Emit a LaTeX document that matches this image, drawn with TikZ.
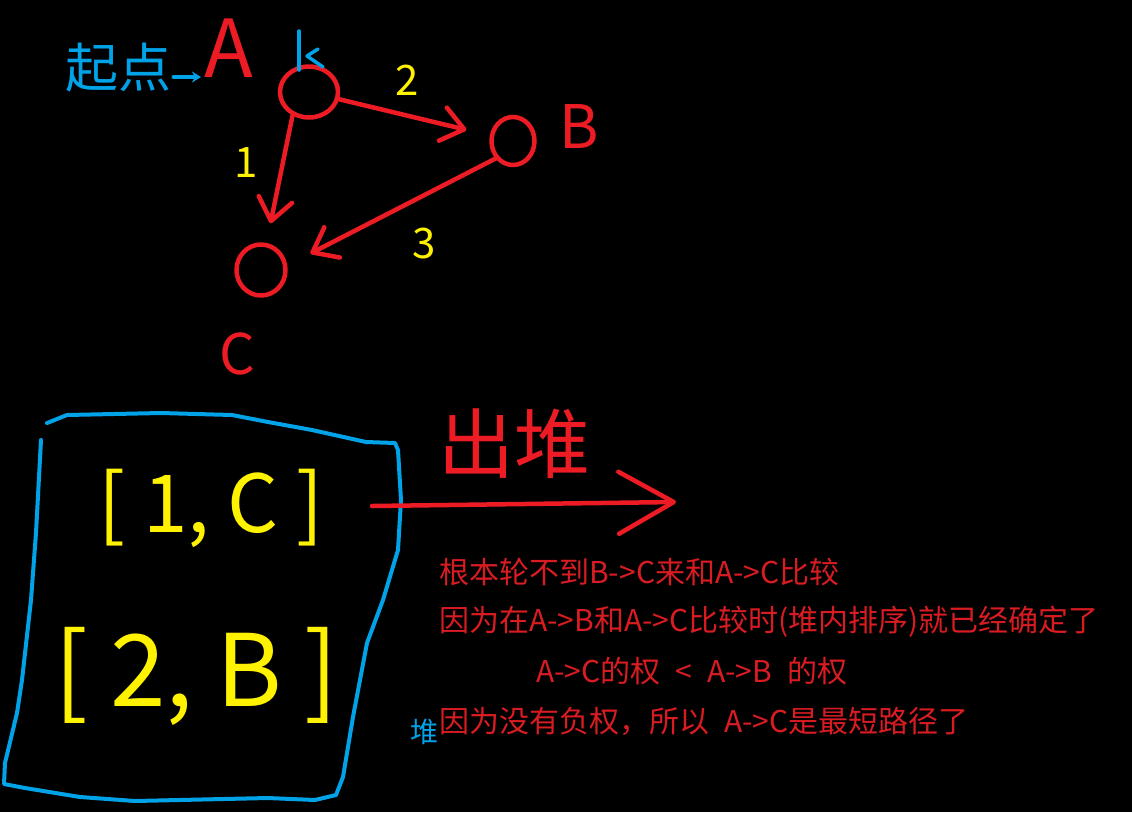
\documentclass[tikz,border=0pt]{standalone}
\usepackage{fontspec}
\setmainfont{Noto Sans CJK SC}
\usepackage{xcolor}
\usetikzlibrary{arrows.meta,shapes.geometric}
\definecolor{paintred}{HTML}{ED1C24}
\definecolor{paintyellow}{HTML}{FFF200}
\definecolor{paintblue}{HTML}{00A2E8}
\definecolor{notered}{HTML}{D91C22}

\begin{document}
\begin{tikzpicture}[x=1pt,y=-1pt,line width=4.5pt,line cap=round,line join=round,
  vertex/.style={draw=paintred,ellipse,inner sep=0pt},
  edge/.style={paintred,-{Straight Barb[length=22pt,width=34pt,round]}},
  weight/.style={text=paintyellow,inner sep=0pt,font=\hand{42}},
  letter/.style={text=paintred,inner sep=0pt},
  note/.style={text=notered,anchor=west,inner sep=0pt,font=\hand{30}}]
\newcommand{\hand}[1]{\fontsize{#1}{#1}\selectfont}
\fill[black] (0,0) rectangle (1132,812);
% graph
\node[vertex,minimum width=58,minimum height=51] (nA) at (309,92) {};
\node[vertex,minimum width=43,minimum height=48] (nB) at (513,141) {};
\node[vertex,minimum width=49,minimum height=51] (nC) at (261,270) {};
\node[letter,font=\hand{80}] (lblA) at (229,48) {A};
\node[letter,font=\hand{60}] (lblB) at (579,127) {B};
\node[letter,font=\hand{56}] (lblC) at (237,354) {C};
\draw[edge,shorten >=20pt] (nA.235) -- (nC);
\draw[edge,shorten >=24pt] (nA) -- (nB);
\draw[edge,shorten >=26pt] (nB.225) -- (nC.10);
\node[weight] (w1) at (246,163) {1};
\node[weight] (w2) at (407,80) {2};
\node[weight] (w3) at (424,244) {3};
% start marker
\node[text=paintblue,inner sep=0pt,font=\hand{53}] (start) at (118,68) {起点};
\coordinate (tipA) at (201,77);
\draw[paintblue,line width=3.5pt,-{Stealth[length=9pt,width=11pt]}] (start.east |- tipA) -- (tipA);
\draw[paintblue,line width=3.5pt] (299,31) -- (299,70);
\draw[paintblue,line width=3.5pt] (318,49) -- (307,56) -- (323,67);
% heap
\draw[paintblue,line width=4pt] (47,423) -- (67,415) -- (161,413) -- (232,415) -- (268,422) -- (312,430)
  -- (366,442) -- (395,443) -- (398,450) -- (401,500) -- (398,550) -- (383,600)
  -- (367,643) -- (353,717) -- (343,777) -- (336,795) -- (315,800) -- (268,798)
  -- (135,801) -- (80,797) -- (25,788) -- (4,784) -- (5,763) -- (17,713)
  -- (22,680) -- (31,600) -- (36,533) -- (41,440);
\node[text=paintyellow,inner sep=0pt,font=\hand{80}] (top) at (211,508) {[ 1, C ]};
\node[text=paintyellow,inner sep=0pt,font=\hand{100}] (second) at (196,676) {[ 2, B ]};
\node[text=paintblue,inner sep=0pt,font=\hand{28}] (heapName) at (424,732) {堆};
% pop
\node[letter,font=\hand{76}] (pop) at (514,444) {出堆};
\coordinate (heapOut) at (372,506);
\coordinate (popEnd) at (676,502);
\draw[paintred,-{Straight Barb[length=55pt,width=62pt,round]}] (heapOut) -- (popEnd);
% notes
\node[note] (why1) at (437,572) {根本轮不到B->C来和A->C比较};
\node[note] (why2) at (437,622) {因为在A->B和A->C比较时(堆内排序)就已经确定了};
\node[note] (why3) at (534,671) {A->C的权\enspace<\enspace A->B\enspace 的权};
\node[note] (why4) at (437,721) {因为没有负权，所以\enspace A->C是最短路径了};
\end{tikzpicture}
\end{document}
